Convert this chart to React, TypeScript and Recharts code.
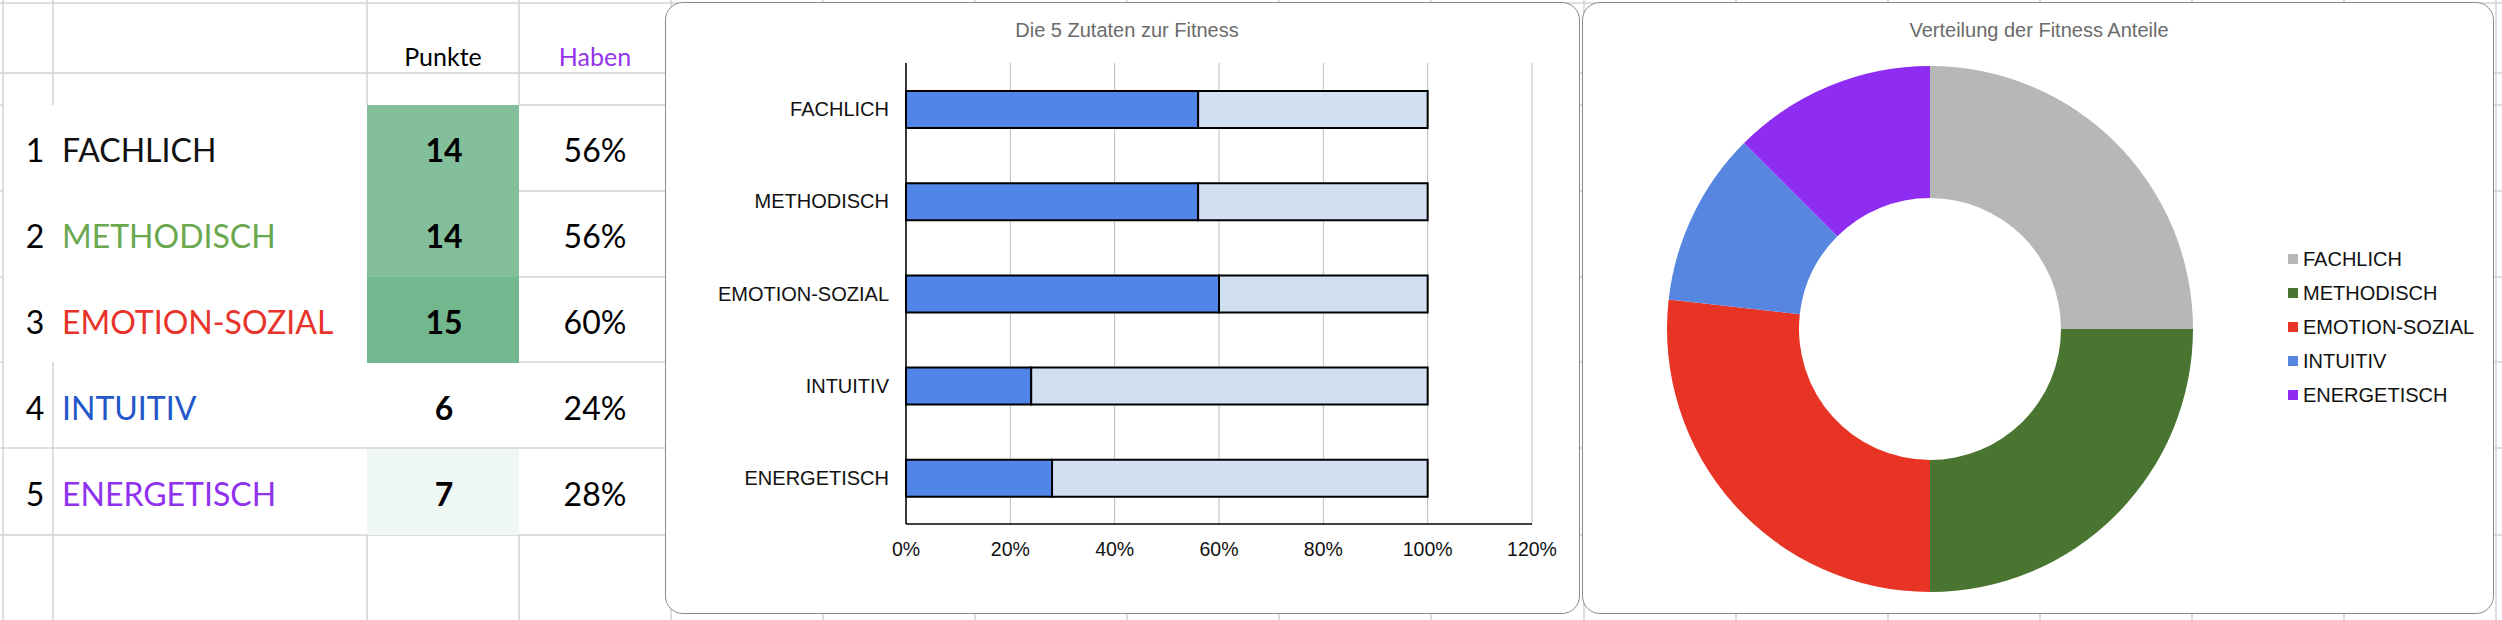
import React from "react";
import { BarChart, Bar, XAxis, YAxis, CartesianGrid, PieChart, Pie, Cell } from "recharts";

// table / chart data
const categories = ["FACHLICH", "METHODISCH", "EMOTION-SOZIAL", "INTUITIV", "ENERGETISCH"];
const punkte = [14, 14, 15, 6, 7];
const haben = [0.56, 0.56, 0.6, 0.24, 0.28];
const percentTicks = [0, 0.2, 0.4, 0.6, 0.8, 1, 1.2];

const labelColors = ["#111111", "#6aa84f", "#e8332a", "#2357c8", "#9031f0"];
const sliceColors = ["#b7b7b7", "#4a7530", "#e83425", "#5786e0", "#8e2cf2"];

const GRID = "#d3d3d3";
const SHEET_FONT = "Lato, 'Open Sans', sans-serif";
const CHART_FONT = "'Liberation Sans', Arial, sans-serif";

// conditional formatting: white at min -> green at max
const scaleFill = (v: number) => {
  const min = Math.min(...punkte);
  const max = Math.max(...punkte);
  const t = (v - min) / (max - min);
  const to = [0x73, 0xb7, 0x8f];
  const c = to.map((ch) => Math.round(255 + (ch - 255) * t));
  return `rgb(${c[0]},${c[1]},${c[2]})`;
};

const ROW_TOP = 105;
const ROW_H = 86;

const SheetGrid = () => {
  const rowLines = [3, 73, 105, 191, 277, 362, 448, 535];
  const colLines: number[] = [];
  for (let x = 671; x < 2502; x += 152.1) colLines.push(Math.round(x));
  return (
    <svg width={2502} height={620} style={{ position: "absolute", left: 0, top: 0 }}>
      <g stroke={GRID} strokeWidth={1.5}>
        {rowLines.map((y) => (
          <line key={"r" + y} x1={519} x2={2502} y1={y} y2={y} />
        ))}
        {[3, 73, 448, 535].map((y) => (
          <line key={"l" + y} x1={0} x2={519} y1={y} y2={y} />
        ))}
        {[105, 191, 277, 362].map((y) => (
          <line key={"t" + y} x1={0} x2={3} y1={y} y2={y} />
        ))}
        {colLines.map((x) => (
          <line key={"c" + x} x1={x} x2={x} y1={0} y2={620} />
        ))}
        <line x1={3} x2={3} y1={0} y2={620} />
        <line x1={53} x2={53} y1={0} y2={105} />
        <line x1={53} x2={53} y1={362} y2={620} />
        <line x1={367} x2={367} y1={0} y2={105} />
        <line x1={367} x2={367} y1={535} y2={620} />
        <line x1={519} x2={519} y1={0} y2={105} />
        <line x1={519} x2={519} y1={535} y2={620} />
      </g>
    </svg>
  );
};

const Txt = ({ x, y, children, color = "#000", size = 32, weight = 400, align = "center" }: any) => (
  <div
    style={{
      position: "absolute",
      left: x,
      top: y,
      transform: align === "center" ? "translate(-50%, -50%)" : "translate(0, -50%)",
      fontFamily: SHEET_FONT,
      fontSize: size,
      fontWeight: weight,
      color,
      lineHeight: 1,
      whiteSpace: "nowrap",
    }}
  >
    {children}
  </div>
);

const ScoreTable = () => (
  <>
    {punkte.map((p, i) =>
      p > Math.min(...punkte) ? (
        <div
          key={"f" + i}
          style={{
            position: "absolute",
            left: 367,
            top: ROW_TOP + i * ROW_H,
            width: 152,
            height: ROW_H,
            background: scaleFill(p),
          }}
        />
      ) : null
    )}
    <Txt x={443} y={56} size={25}>Punkte</Txt>
    <Txt x={595} y={56} size={25} color="#9334ea">Haben</Txt>
    {categories.map((c, i) => {
      const cy = ROW_TOP + i * ROW_H + ROW_H / 2 + 2;
      return (
        <React.Fragment key={c}>
          <Txt x={35} y={cy}>{i + 1}</Txt>
          <Txt x={62} y={cy} align="left" color={labelColors[i]}>{c}</Txt>
          <Txt x={444} y={cy} weight={700}>{punkte[i]}</Txt>
          <Txt x={595} y={cy}>{Math.round(haben[i] * 100)}%</Txt>
        </React.Fragment>
      );
    })}
  </>
);

const Card = ({ left, width, title, titleX, children }: any) => (
  <div
    style={{
      position: "absolute",
      left,
      top: 2,
      width,
      height: 612,
      boxSizing: "border-box",
      border: "1px solid #8a8a8a",
      borderRadius: 18,
      background: "#fff",
      overflow: "hidden",
    }}
  >
    <div
      style={{
        position: "absolute",
        left: titleX,
        top: 17,
        transform: "translateX(-50%)",
        fontFamily: CHART_FONT,
        fontSize: 20,
        lineHeight: 1,
        color: "#6b6b6b",
        whiteSpace: "nowrap",
      }}
    >
      {title}
    </div>
    {children}
  </div>
);

const FitnessBars = () => {
  const rows = categories.map((name, i) => ({ name, have: haben[i], rest: 1 - haben[i] }));
  return (
    <BarChart
      width={915}
      height={612}
      data={rows}
      layout="vertical"
      margin={{ top: 61, right: 48, bottom: 30, left: 41 }}
      style={{ position: "absolute", left: -1, top: -1 }}
    >
      <CartesianGrid horizontal={false} stroke="#bdbdbd" strokeWidth={1} />
      <XAxis
        type="number"
        domain={[0, 1.2]}
        ticks={percentTicks}
        tickFormatter={(v: number) => `${Math.round(v * 100)}%`}
        axisLine={{ stroke: "#000", strokeWidth: 1.5 }}
        tickLine={false}
        tickSize={0}
        tickMargin={18}
        height={60}
        tick={{ fill: "#111", fontSize: 19.5, fontFamily: CHART_FONT }}
      />
      <YAxis
        type="category"
        dataKey="name"
        width={200}
        axisLine={{ stroke: "#000", strokeWidth: 1.5 }}
        tickLine={false}
        tickSize={0}
        tickMargin={17}
        tick={{ fill: "#111", fontSize: 20, fontFamily: CHART_FONT }}
      />
      <Bar dataKey="have" stackId="a" fill="#5285e8" stroke="#000" strokeWidth={2} barSize={37} isAnimationActive={false} />
      <Bar dataKey="rest" stackId="a" fill="#d0e0f0" stroke="#000" strokeWidth={2} barSize={37} isAnimationActive={false} />
    </BarChart>
  );
};

const FitnessDonut = () => {
  const slices = categories.map((name, i) => ({ name, value: punkte[i] }));
  return (
    <>
      <PieChart width={912} height={612} margin={{ top: 0, right: 0, bottom: 0, left: 0 }} style={{ position: "absolute", left: -1, top: -1 }}>
        <Pie
          data={slices}
          dataKey="value"
          cx={348}
          cy={327}
          innerRadius={131}
          outerRadius={263}
          startAngle={90}
          endAngle={-270}
          stroke="none"
          isAnimationActive={false}
        >
          {slices.map((s, i) => (
            <Cell key={s.name} fill={sliceColors[i]} />
          ))}
        </Pie>
      </PieChart>
      {categories.map((c, i) => (
        <div
          key={c}
          style={{
            position: "absolute",
            left: 2288 - 1583,
            top: 259 - 3 + i * 34 - 10,
            height: 20,
            display: "flex",
            alignItems: "center",
            fontFamily: CHART_FONT,
            fontSize: 20,
            color: "#111",
            whiteSpace: "nowrap",
          }}
        >
          <span style={{ width: 10, height: 10, background: sliceColors[i], marginRight: 5, display: "inline-block" }} />
          {c}
        </div>
      ))}
    </>
  );
};

export default function App() {
  return (
    <div style={{ position: "absolute", left: 0, top: 0, width: 2502, height: 620, background: "#fff", overflow: "hidden" }}>
      <SheetGrid />
      <ScoreTable />
      <Card left={665} width={915} title="Die 5 Zutaten zur Fitness" titleX={461}>
        <FitnessBars />
      </Card>
      <Card left={1582} width={912} title="Verteilung der Fitness Anteile" titleX={456}>
        <FitnessDonut />
      </Card>
    </div>
  );
}
